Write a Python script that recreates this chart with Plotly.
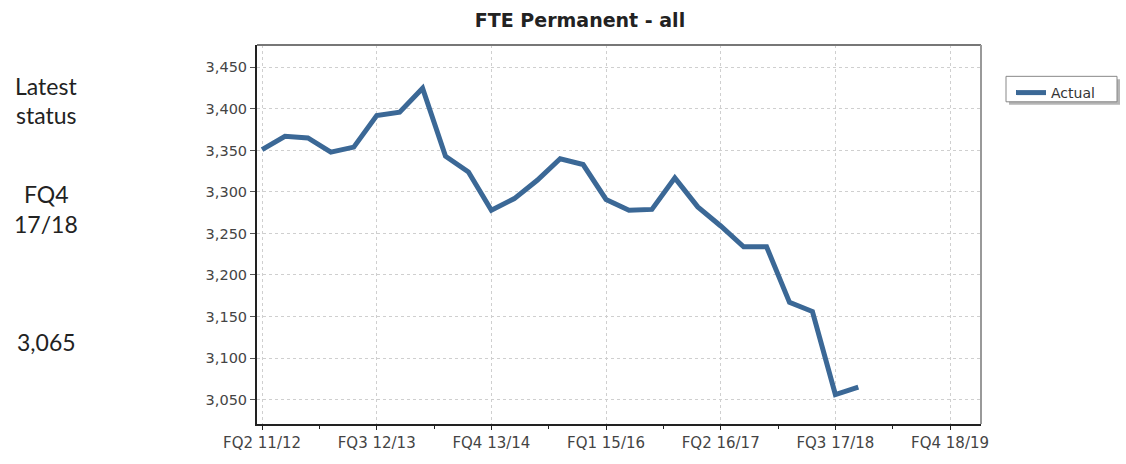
import plotly.graph_objects as go

quarters = []
for y0 in range(11, 19):
    fy = f"{y0}/{y0+1}"
    for q in range(1, 5):
        quarters.append(f"FQ{q} {fy}")
quarters = quarters[1:]  # start at FQ2 11/12

actual = [3351, 3367, 3365, 3348, 3354, 3392, 3396, 3425, 3343, 3324,
          3278, 3292, 3314, 3340, 3333, 3291, 3278, 3279, 3317, 3282,
          3259, 3234, 3234, 3167, 3156, 3056, 3065]

tick_labels = ["FQ2 11/12", "FQ3 12/13", "FQ4 13/14", "FQ1 15/16",
               "FQ2 16/17", "FQ3 17/18", "FQ4 18/19"]
y_ticks = [3050, 3100, 3150, 3200, 3250, 3300, 3350, 3400, 3450]

side_lines = ["Latest", "status", "FQ4", "17/18", "3,065"]
side_y = [87, 116, 197, 228, 348]

x_idx = list(range(len(actual)))
tick_idx = [quarters.index(t) for t in tick_labels]

fig = go.Figure()
fig.add_trace(go.Scatter(
    x=x_idx, y=actual, mode="lines", name="Actual",
    line=dict(color="#3b6896", width=5),
))

W, H = 1126, 464
L, R, T, B = 257, 145, 45, 32
PW, PH = W - L - R, H - T - B


def px(x):
    return (x - L) / PW


def py(y):
    return 1 - (y - T) / PH


fig.update_layout(
    width=W, height=H,
    margin=dict(l=L, r=R, t=T, b=B),
    paper_bgcolor="white", plot_bgcolor="white",
    font=dict(family="DejaVu Sans", size=14, color="#444444"),
    title=dict(text="<b>FTE Permanent - all</b>", x=580 / W, xanchor="center",
               y=1 - 20 / H, yanchor="middle",
               font=dict(family="DejaVu Sans", size=19, color="#222222")),
    showlegend=True,
    legend=dict(x=1011 / W, y=1 - 77 / H, xref="container", yref="container",
                xanchor="left", yanchor="top",
                bgcolor="rgba(0,0,0,0)", borderwidth=0,
                font=dict(family="DejaVu Sans", size=14, color="#333333")),
)

fig.update_xaxes(
    range=[-0.22, 31.35],
    tickmode="array", tickvals=tick_idx, ticktext=tick_labels,
    ticks="outside", ticklen=4, tickwidth=1, tickcolor="#222222",
    showline=True, linecolor="#222222", linewidth=2,
    showgrid=True, gridcolor="#cfcfcf", griddash="dot", gridwidth=1,
    minor=dict(tickmode="array", tickvals=[t + 2.5 for t in tick_idx],
               ticks="outside", ticklen=3, tickcolor="#222222", showgrid=False),
    zeroline=False,
    tickfont=dict(family="DejaVu Sans", size=15, color="#444444"),
)
fig.update_yaxes(
    range=[3020.5, 3477],
    tickmode="array", tickvals=y_ticks,
    tickformat=",d",
    ticks="outside", ticklen=5, tickwidth=1, tickcolor="#555555",
    showline=True, linecolor="#222222", linewidth=2,
    showgrid=True, gridcolor="#cfcfcf", griddash="dot", gridwidth=1,
    zeroline=False,
    tickfont=dict(family="DejaVu Sans", size=14.5, color="#444444"),
)

# plot-area border (top/right gray)
fig.add_shape(type="line", xref="paper", yref="paper", x0=0, x1=1, y0=1, y1=1,
              line=dict(color="#777777", width=2))
fig.add_shape(type="line", xref="paper", yref="paper", x0=1, x1=1, y0=0, y1=1,
              line=dict(color="#999999", width=2))

# legend box with shadow
fig.add_shape(type="rect", xref="paper", yref="paper",
              x0=px(1009), x1=px(1120), y0=py(106), y1=py(80),
              line=dict(width=0), fillcolor="#b5b5b5", layer="above")
fig.add_shape(type="rect", xref="paper", yref="paper",
              x0=px(1006), x1=px(1117), y0=py(103), y1=py(77),
              line=dict(width=1, color="#888888"), fillcolor="white", layer="above")

for txt, yy in zip(side_lines, side_y):
    fig.add_annotation(text=txt, xref="paper", yref="paper",
                       x=px(46), y=py(yy),
                       xanchor="center", yanchor="middle", showarrow=False,
                       font=dict(family="Lato", size=23, color="#222222"))

fig.write_html("out.html", config={"displayModeBar": False},
               post_script="document.body.style.margin='0';")
